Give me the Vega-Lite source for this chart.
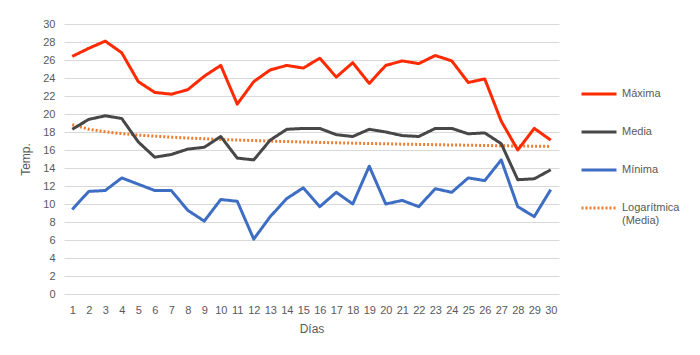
{
  "$schema": "https://vega.github.io/schema/vega-lite/v6.json",
  "width": 495,
  "height": 270,
  "autosize": {"type": "none"},
  "padding": {"left": 64, "top": 24, "right": 141, "bottom": 61},
  "background": "white",
  "config": {
    "view": {"stroke": null},
    "font": "Liberation Sans",
    "axis": {"labelColor": "#595959", "titleColor": "#595959", "labelFontSize": 11, "titleFontSize": 12, "titleFontWeight": "normal", "domain": false, "ticks": false, "gridColor": "#D9D9D9", "gridWidth": 1}
  },
  "data": {"values": [
    {"dia":1,"Máxima":26.4,"Media":18.3,"Mínima":9.4,"Logarítmica (Media)":18.80},
    {"dia":2,"Máxima":27.3,"Media":19.4,"Mínima":11.4,"Logarítmica (Media)":18.31},
    {"dia":3,"Máxima":28.1,"Media":19.8,"Mínima":11.5,"Logarítmica (Media)":18.02},
    {"dia":4,"Máxima":26.8,"Media":19.5,"Mínima":12.9,"Logarítmica (Media)":17.82},
    {"dia":5,"Máxima":23.6,"Media":16.9,"Mínima":12.2,"Logarítmica (Media)":17.66},
    {"dia":6,"Máxima":22.4,"Media":15.2,"Mínima":11.5,"Logarítmica (Media)":17.54},
    {"dia":7,"Máxima":22.2,"Media":15.5,"Mínima":11.5,"Logarítmica (Media)":17.43},
    {"dia":8,"Máxima":22.7,"Media":16.1,"Mínima":9.3,"Logarítmica (Media)":17.33},
    {"dia":9,"Máxima":24.2,"Media":16.3,"Mínima":8.1,"Logarítmica (Media)":17.25},
    {"dia":10,"Máxima":25.4,"Media":17.5,"Mínima":10.5,"Logarítmica (Media)":17.17},
    {"dia":11,"Máxima":21.1,"Media":15.1,"Mínima":10.3,"Logarítmica (Media)":17.11},
    {"dia":12,"Máxima":23.6,"Media":14.9,"Mínima":6.1,"Logarítmica (Media)":17.05},
    {"dia":13,"Máxima":24.9,"Media":17.1,"Mínima":8.6,"Logarítmica (Media)":16.99},
    {"dia":14,"Máxima":25.4,"Media":18.3,"Mínima":10.6,"Logarítmica (Media)":16.94},
    {"dia":15,"Máxima":25.1,"Media":18.4,"Mínima":11.8,"Logarítmica (Media)":16.89},
    {"dia":16,"Máxima":26.2,"Media":18.4,"Mínima":9.7,"Logarítmica (Media)":16.84},
    {"dia":17,"Máxima":24.1,"Media":17.7,"Mínima":11.3,"Logarítmica (Media)":16.80},
    {"dia":18,"Máxima":25.7,"Media":17.5,"Mínima":10.0,"Logarítmica (Media)":16.76},
    {"dia":19,"Máxima":23.4,"Media":18.3,"Mínima":14.2,"Logarítmica (Media)":16.72},
    {"dia":20,"Máxima":25.4,"Media":18.0,"Mínima":10.0,"Logarítmica (Media)":16.69},
    {"dia":21,"Máxima":25.9,"Media":17.6,"Mínima":10.4,"Logarítmica (Media)":16.65},
    {"dia":22,"Máxima":25.6,"Media":17.5,"Mínima":9.7,"Logarítmica (Media)":16.62},
    {"dia":23,"Máxima":26.5,"Media":18.4,"Mínima":11.7,"Logarítmica (Media)":16.59},
    {"dia":24,"Máxima":25.9,"Media":18.4,"Mínima":11.3,"Logarítmica (Media)":16.56},
    {"dia":25,"Máxima":23.5,"Media":17.8,"Mínima":12.9,"Logarítmica (Media)":16.53},
    {"dia":26,"Máxima":23.9,"Media":17.9,"Mínima":12.6,"Logarítmica (Media)":16.50},
    {"dia":27,"Máxima":19.2,"Media":16.7,"Mínima":14.9,"Logarítmica (Media)":16.47},
    {"dia":28,"Máxima":16.0,"Media":12.7,"Mínima":9.7,"Logarítmica (Media)":16.45},
    {"dia":29,"Máxima":18.4,"Media":12.8,"Mínima":8.6,"Logarítmica (Media)":16.42},
    {"dia":30,"Máxima":17.1,"Media":13.8,"Mínima":11.6,"Logarítmica (Media)":16.40}
  ]},
  "transform": [
    {"fold": ["Logarítmica (Media)", "Mínima", "Media", "Máxima"], "as": ["serie", "temp"]}
  ],
  "mark": {"type": "line", "strokeCap": "butt", "strokeJoin": "round"},
  "encoding": {
    "x": {"field": "dia", "type": "ordinal", "sort": "ascending", "scale": {"type": "point", "padding": 0.5},
          "axis": {"title": "Días", "labelAngle": 0, "labelPadding": 10, "titlePadding": 8, "grid": false}},
    "y": {"field": "temp", "type": "quantitative", "scale": {"domain": [0, 30]},
          "axis": {"title": "Temp.", "values": [0,2,4,6,8,10,12,14,16,18,20,22,24,26,28,30], "labelPadding": 9, "titlePadding": 10}},
    "color": {"field": "serie", "type": "nominal",
      "scale": {"domain": ["Máxima", "Media", "Mínima", "Logarítmica (Media)"], "range": ["#FF2A00", "#474747", "#3E6EC4", "#ED7D31"]},
      "legend": {"title": null, "orient": "none", "legendX": 516, "legendY": 51, "symbolType": "stroke", "symbolSize": 1225, "labelFontSize": 11, "labelColor": "#595959", "labelOffset": 4, "rowPadding": 13, "labelLimit": 200,
        "labelExpr": "datum.label == 'Logarítmica (Media)' ? ['Logarítmica', '(Media)'] : datum.label"}},
    "strokeDash": {"field": "serie", "type": "nominal",
      "scale": {"domain": ["Máxima", "Media", "Mínima", "Logarítmica (Media)"], "range": [[1, 0], [1, 0], [1, 0], [2, 2]]}},
    "strokeWidth": {"field": "serie", "type": "nominal",
      "scale": {"domain": ["Máxima", "Media", "Mínima", "Logarítmica (Media)"], "range": [3, 3, 3, 1.5]}},
    "order": {"field": "dia", "type": "quantitative"}
  }
}
